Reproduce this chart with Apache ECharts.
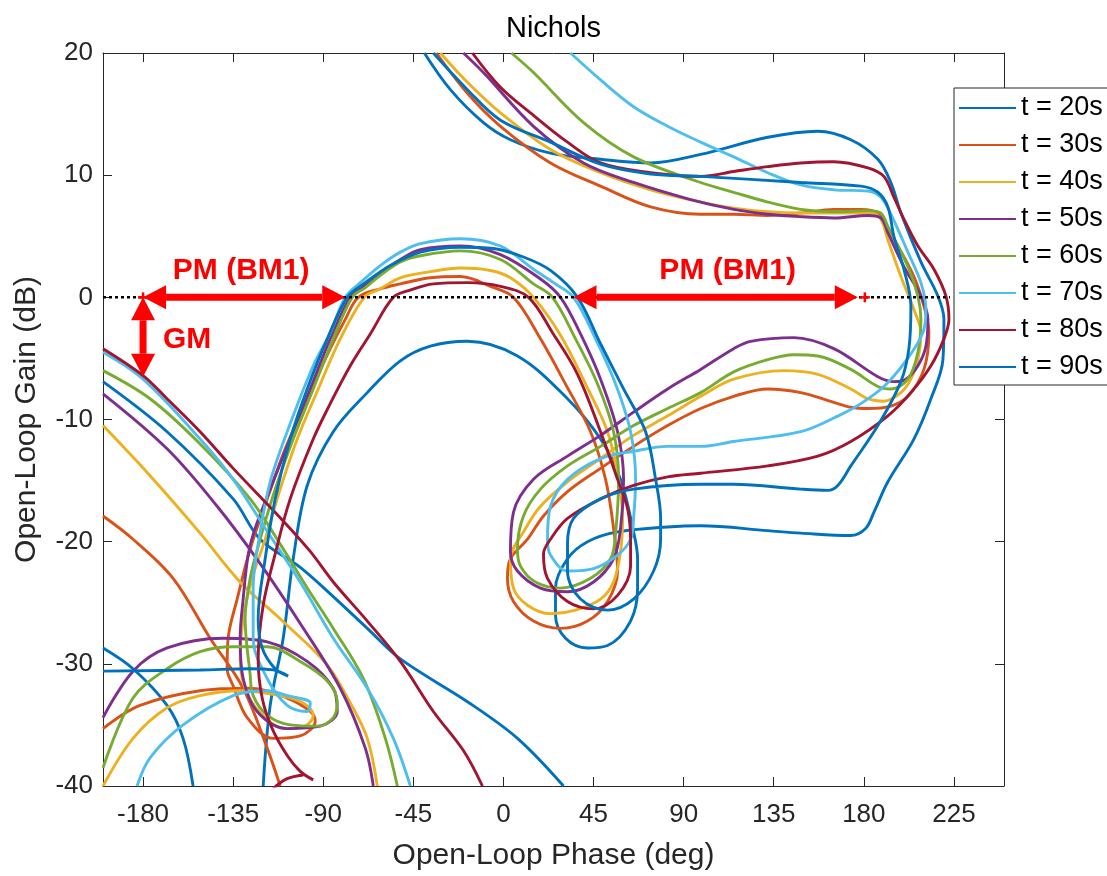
<!DOCTYPE html>
<html>
<head>
<meta charset="utf-8">
<script src="https://cdn.jsdelivr.net/npm/echarts@6/dist/echarts.min.js"></script>
<style>
  html, body { margin: 0; padding: 0; background: #fff; }
  #chart { width: 1107px; height: 876px; }
</style>
</head>
<body>
<div id="chart"></div>
<script>
// Nichols response of the loop at eight time instants; each trace is [phase (deg), gain (dB)],
// with null separating disconnected branches of the same response.
const seriesNames = ['t = 20s', 't = 30s', 't = 40s', 't = 50s', 't = 60s', 't = 70s', 't = 80s', 't = 90s'];
const seriesColors = ['#0072BD', '#D95319', '#EDB120', '#7E2F8E', '#77AC30', '#4DBEEE', '#A2142F', '#0072BD'];
const phaseTicks = [-180, -135, -90, -45, 0, 45, 90, 135, 180, 225];

const t20 = [
  [-39.5,20],[-26.5,17],[-10,14.3],[3.5,12.9],[23.5,11.8],[48.5,11.3],[73.5,11.0],[98.5,11.7],[132,13.1],[157,13.6],
  [173.5,12.9],[187,11.3],[193.5,9.4],[198.5,6.9],[208.5,2.9],[217,0.1],[220,-1.8],[219.5,-5.1],[213.5,-8.3],[205,-11.6],
  [192,-15.1],[185,-17.6],[181,-18.9],[173.5,-19.5],[148.5,-19.3],[132,-19.1],[98.5,-18.7],[82,-18.8],[57,-19.2],[42,-20],
  [32,-21.4],[26,-23.8],[26,-26],[31,-27.9],[42,-28.7],[52,-28.5],[63.5,-26.5],[67,-23.8],[67,-21.4],[65,-19.2],
  [58.5,-14.9],[48.5,-11.6],[32,-8.3],[7,-4.8],[-18,-3.6],[-36.5,-4],[-51.5,-5.2],[-68,-7.8],[-85,-11],[-98,-15.4],
  [-105,-21.4],[-110,-27.9],[-116.5,-33.4],[-120,-40],
  null,
  [-200,-6.9],[-168,-11],[-135,-16.5],[-121.5,-19.8],[-101.5,-22.1],[-85,-24.5],[-68,-27.1],[-51.5,-29.6],[-18,-33.1],[7,-36.1],[30,-40],
  null,
  [-200,-28.7],[-185,-30.4],[-168,-33.4],[-160,-36.1],[-155,-40]
];

const t30 = [
  [-33.5,20],[-18,16.7],[-1.5,14],[23.5,11],[48.5,9.1],[73.5,7.4],[98.5,6.8],[115,6.8],[132,6.7],[148.5,6.9],
  [165,7.2],[178.5,7.2],[187,6.9],[192,5.6],[197,4.2],[205,1.7],[210,-0.7],[212.5,-2.9],[210,-5.9],[202,-8.1],
  [193.5,-8.9],[182,-9.1],[173.5,-9],[165,-8.6],[148.5,-7.8],[132,-7.5],[115,-8.1],[98.5,-9.1],[82,-10.5],[65,-12.2],
  [48.5,-14],[32,-15.9],[20,-17.9],[12,-19.8],[3.5,-21.4],[2,-23],[5,-24.9],[15,-26.5],[28.5,-27.1],[42,-26.5],
  [52,-24.9],[57,-22.4],[55,-18.9],[51,-14.9],[43.5,-11],[31,-7.1],[18.5,-3.4],[5,0],[-6.5,0.9],[-21.5,1.7],
  [-36.5,1.6],[-51.5,1.1],[-61.5,0.7],[-72.5,0],[-79,-1.8],[-86.5,-4.2],[-98,-8.3],[-109,-12.4],[-118,-16.5],[-126.5,-20.6],
  [-133,-24.7],[-137.5,-27.9],[-138,-30.4],[-135,-31.8],[-128,-34.4],[-115,-36.1],[-101.5,-35.9],[-94,-34.7],[-96.5,-33.9],[-108,-32.8],
  [-126.5,-32],[-151.5,-32.2],[-181.5,-33.4],[-200,-35.3],
  null,
  [-200,-17.9],[-185,-19.8],[-165,-23],[-146.5,-27.9],[-130,-32],[-118,-36.9],[-111.5,-40]
];

const t40 = [
  [-31.5,20],[-18,17.6],[-1.5,15.1],[23.5,12.1],[48.5,10.2],[73.5,8.8],[98.5,7.8],[115,7.3],[132,7],[148.5,6.9],
  [165,6.9],[183.5,6.9],[188.5,6.4],[192,4.7],[198.5,1.7],[205,-1],[208.5,-2.9],[207,-5.1],[203.5,-6.7],[198.5,-7.8],
  [190,-8.5],[182,-8.3],[173.5,-7.5],[157,-6.3],[140,-6],[115,-6.7],[98.5,-8.1],[82,-9.7],[65,-11.3],[48.5,-13.2],
  [32,-15.1],[18.5,-17.1],[10,-19.2],[3.5,-21.4],[5,-23.8],[12,-25.2],[23.5,-25.9],[36,-25.6],[48.5,-24.7],[55,-23.3],
  [58.5,-20.8],[59.5,-18.1],[57.5,-14.9],[52,-11],[41,-7.1],[28.5,-3.1],[15,0],[3.5,1.6],[-6.5,2.2],[-21.5,2.4],
  [-36.5,2.1],[-51.5,1.6],[-61.5,0.7],[-69.5,0],[-81.5,-3.4],[-92.5,-7.5],[-103,-11.6],[-111.5,-15.7],[-119,-19.8],[-125.5,-23],
  [-130,-26.3],[-131.5,-29.6],[-129,-32],[-121.5,-34],[-109,-35.3],[-99,-35.1],[-95,-34.2],[-100,-33.2],[-111.5,-32.6],[-131.5,-32.2],
  [-151.5,-32.6],[-168,-33.6],[-185,-36.1],[-200,-40],
  null,
  [-200,-10.5],[-176.5,-14.6],[-151.5,-19.3],[-131.5,-23.3],[-109,-26.7],[-88,-30.1],[-76.5,-33.2],[-68,-36.1],[-63,-40]
];

const t50 = [
  [-20,20],[-10,18.4],[15,14],[40,11],[65,9.4],[93.5,8],[115,7.2],[132,6.8],[148.5,6.6],[165,6.5],
  [182,6.7],[188.5,6.5],[192,5.3],[200,2.5],[208.5,0.1],[212,-1.8],[211,-4],[207,-5.6],[201,-6.7],[195,-6.9],
  [187,-6.5],[165,-4.2],[145,-3.3],[123.5,-3.6],[115,-4.2],[98.5,-5.9],[82,-7.5],[65,-9.4],[48.5,-11.3],[32,-13],
  [15,-14.9],[5,-17.6],[3.5,-20.8],[7,-22.4],[18.5,-23.8],[32,-24.1],[45,-23.3],[55,-21.4],[58.5,-18.9],[60,-14.9],
  [57,-11],[48.5,-6.7],[38.5,-3],[28.5,0],[18.5,1.5],[-1.5,3.5],[-21.5,4.2],[-41.5,3.9],[-51.5,3.1],[-61.5,2],
  [-70.5,0.8],[-76.5,0],[-86.5,-3.4],[-96.5,-7.5],[-106.5,-11.6],[-116.5,-15.7],[-124,-18.9],[-127.5,-21.1],[-130,-24.7],[-131.5,-27.9],
  [-130,-31.2],[-123,-33.9],[-108,-35.3],[-91.5,-35.1],[-83,-33.9],[-85,-32],[-98,-29.8],[-118,-28.2],[-140,-27.9],[-168,-28.7],
  [-185,-30.6],[-200,-34.4],
  null,
  [-200,-7.9],[-168,-12.4],[-143,-17.1],[-121.5,-21.8],[-101.5,-26.7],[-81.5,-32],[-69,-36.9],[-65,-40]
];

const t60 = [
  [4,20],[15,18.4],[40,14.3],[65,11.5],[98.5,9.4],[115,8.6],[132,7.8],[148.5,7.2],[165,7],[182,7.1],
  [188.5,6.9],[192,5.8],[202,2.5],[207,0.1],[208.5,-1.8],[207,-4.5],[202,-6.7],[193.5,-7.5],[187,-7.3],[173.5,-5.9],
  [157,-4.8],[145,-4.7],[132,-5.1],[115,-6.1],[98.5,-7.8],[82,-9.1],[65,-10.5],[48.5,-12.2],[32,-13.8],[18.5,-15.7],
  [10,-17.9],[7,-20.6],[8.5,-22],[16,-23.3],[28.5,-23.8],[43.5,-23],[53.5,-21.4],[56,-19.3],[57.5,-14.9],[55,-11],
  [47,-7.1],[36,-3.4],[24.5,0],[15,1.1],[-1.5,3.1],[-21.5,3.8],[-41.5,3.4],[-51.5,2.9],[-61.5,1.8],[-69,0.8],
  [-75.5,0],[-85,-3.4],[-95,-7.5],[-105,-11.6],[-114,-15.7],[-121.5,-19.8],[-126.5,-23],[-129,-26.3],[-126.5,-30.9],[-125,-32.6],
  [-118,-34.2],[-106.5,-35],[-93,-35.1],[-85,-34.4],[-83,-33.1],[-88,-31.4],[-101.5,-29.8],[-118,-28.6],[-135,-28.6],[-151.5,-29],
  [-168,-30.4],[-185,-32.8],[-200,-38.5],
  null,
  [-200,-6],[-176.5,-8.3],[-151.5,-12],[-126.5,-16.5],[-111.5,-20.2],[-98,-23.8],[-85,-27.1],[-70,-31.2],[-59,-36.1],[-53,-40]
];

const t70 = [
  [33.5,20],[48.5,17.8],[65,15.6],[82,14],[98.5,12.7],[115,11.5],[132,10.2],[148.5,9.2],[165,8.8],[182,8.7],
  [188.5,8.2],[193.5,6.8],[202,3.7],[208.5,1.2],[211,-1],[209.5,-2.9],[201,-5.2],[190,-7.3],[178.5,-8.7],[168.5,-9.6],
  [148.5,-11],[115,-11.8],[98.5,-12.2],[82,-12.2],[65,-12.6],[48.5,-13.2],[32,-14.9],[23.5,-17.1],[22,-19.8],[23.5,-21.1],
  [32,-22.4],[45,-22.2],[57,-21.1],[63.5,-19.8],[65,-18.1],[66,-14.9],[63.5,-11],[56,-7.1],[46,-3.4],[35,0],
  [25,1.2],[15,2.3],[-1.5,4.2],[-21.5,4.8],[-41.5,4.4],[-51.5,3.7],[-61.5,2.6],[-71.5,1.2],[-79,0],[-86.5,-2.9],
  [-95,-5.6],[-108,-11],[-116.5,-15.1],[-121.5,-19.2],[-125,-23.8],[-125,-27.9],[-118,-31.2],[-108,-33.4],[-98,-33.9],[-96.5,-33.2],
  [-108,-32.6],[-118,-32.2],[-135,-32.6],[-160,-35],[-176.5,-37.7],[-183,-40],
  null,
  [-200,-4.5],[-180,-6.7],[-151.5,-11.6],[-135,-14.9],[-119,-18.9],[-101.5,-23.3],[-85,-27.9],[-68,-32],[-55,-36.1],[-46.5,-40]
];

const t80 = [
  [-15.5,20],[-1.5,17.2],[15,14.9],[32,12.7],[48.5,11],[73.5,10.2],[98.5,9.9],[115,10.3],[132,10.7],[148.5,11],
  [165,11.1],[182,10.6],[190,9.9],[195,8.2],[200,6.4],[207,4.2],[215,2.3],[221,0.1],[222.5,-1.8],[220,-3.4],
  [213.5,-5.6],[203.5,-7.8],[192,-9.7],[173.5,-11.8],[157,-13],[132,-13.8],[98.5,-14.4],[82,-14.7],[65,-15.4],[48.5,-16.5],
  [32,-18.1],[23.5,-19.8],[20,-21],[22,-23],[32,-24.9],[45,-25.5],[57,-24.4],[63.5,-22],[63.5,-19.8],[62,-17.3],
  [57,-14.9],[48.5,-11],[37,-6.3],[24.5,-2.9],[12.5,0],[-1.5,0.9],[-18,1.2],[-35,1.1],[-46.5,0.6],[-55,0],
  [-66.5,-3],[-76.5,-5.6],[-86.5,-8.7],[-95,-11.6],[-106.5,-16.5],[-114,-21],[-120,-25.2],[-122.5,-29.6],[-120.5,-32.8],[-115.5,-35.3],
  [-108,-37.5],[-101.5,-38.8],[-95,-39.5],
  null,
  [-115,-40.2],[-108,-39.4],[-100,-39.1],
  null,
  [-200,-4.2],[-180,-6.4],[-168,-8.3],[-151.5,-11],[-135,-14],[-110,-18.3],[-96.5,-20.8],[-85,-23.3],[-68,-26.5],[-51.5,-29.8],
  [-35,-33.9],[-20,-37.1],[-10.5,-40]
];

const t90 = [
  [-35,20],[-18,17],[-1.5,14.5],[23.5,12.7],[48.5,10.9],[73.5,10.1],[98.5,9.9],[148.5,9.4],[178.5,9.1],[187,8.6],
  [192,7.4],[195,5],[200,2.3],[203.5,-0.7],[202.5,-4.2],[198.5,-6.9],[187,-10.5],[173.5,-13.8],[167,-15.4],[162,-15.8],
  [148.5,-15.7],[115,-15.3],[98.5,-15.3],[65,-15.7],[48.5,-16.5],[35,-18.1],[32,-20.2],[32,-22.4],[38.5,-24.7],[52,-25.6],
  [65,-24.7],[75,-22.4],[78.5,-19.8],[78.5,-18.1],[76,-14.9],[71,-11],[60,-7.5],[48.5,-3.8],[37,0],[23.5,2.2],
  [10,3.3],[-5,4],[-21.5,4.1],[-41.5,3.7],[-56.5,2.6],[-69,1.2],[-78,0],[-88,-3.4],[-98,-7.5],[-106.5,-11.6],
  [-114,-16.5],[-119,-21.4],[-122.5,-26.3],[-120.5,-28.7],[-114,-30.4],[-107.5,-31],
  null,
  [-200,-30.6],[-151.5,-30.5],[-126.5,-30.4],[-115,-30.5],[-107.5,-31]
];

const traces = [t20, t30, t40, t50, t60, t70, t80, t90];

// Annotations: margin arrows [phase1, gain1, phase2, gain2], crossover marks, labels
const marginArrows = [[-180, 0, -79, 0], [35, 0, 177, 0], [-180, 0, -180, -6.5]];
const crossMarks = [[-180, 0], [180.5, 0]];
const noteTexts = ['PM (BM1)', 'PM (BM1)', 'GM'];
const notePositions = [[-131, 2.2], [112, 2.2], [-158, -3.5]];
const zeroDbLine = [[-200, 0], [223, 0]];

const FONT = '"Liberation Sans", Arial, Helvetica, sans-serif';
const AXIS_COLOR = '#262626';
const RED = '#FF0000';

const chart = echarts.init(document.getElementById('chart'), null, { renderer: 'canvas' });

function arrowItem(params, api) {
  const a = api.coord([api.value(0), api.value(1)]);
  const b = api.coord([api.value(2), api.value(3)]);
  const dx = b[0] - a[0], dy = b[1] - a[1];
  const len = Math.hypot(dx, dy);
  const ux = dx / len, uy = dy / len, nx = -uy, ny = ux;
  const hl = 23, hw = 12;
  const a2 = [a[0] + ux * hl, a[1] + uy * hl];
  const b2 = [b[0] - ux * hl, b[1] - uy * hl];
  return {
    type: 'group',
    children: [
      { type: 'line', shape: { x1: a2[0], y1: a2[1], x2: b2[0], y2: b2[1] }, style: { stroke: RED, lineWidth: 7 } },
      { type: 'polygon', shape: { points: [a, [a2[0] + nx * hw, a2[1] + ny * hw], [a2[0] - nx * hw, a2[1] - ny * hw]] }, style: { fill: RED } },
      { type: 'polygon', shape: { points: [b, [b2[0] + nx * hw, b2[1] + ny * hw], [b2[0] - nx * hw, b2[1] - ny * hw]] }, style: { fill: RED } }
    ]
  };
}

function crossItem(params, api) {
  const p = api.coord([api.value(0), api.value(1)]);
  const s = 5;
  return {
    type: 'group',
    children: [
      { type: 'line', shape: { x1: p[0] - s, y1: p[1], x2: p[0] + s, y2: p[1] }, style: { stroke: RED, lineWidth: 2.5 } },
      { type: 'line', shape: { x1: p[0], y1: p[1] - s, x2: p[0], y2: p[1] + s }, style: { stroke: RED, lineWidth: 2.5 } }
    ]
  };
}

function noteItem(params, api) {
  const p = api.coord([api.value(0), api.value(1)]);
  return {
    type: 'text',
    style: {
      text: noteTexts[params.dataIndex], x: p[0], y: p[1],
      fill: RED, font: 'bold 30px ' + FONT, align: 'center', verticalAlign: 'middle'
    }
  };
}

const lineSeries = traces.map((d, i) => ({
  name: seriesNames[i],
  type: 'line',
  data: d,
  showSymbol: false,
  symbol: 'none',
  smooth: 0.35,
  connectNulls: false,
  clip: true,
  silent: true,
  animation: false,
  color: seriesColors[i],
  lineStyle: { color: seriesColors[i], width: 2.9 }
}));

const xCommon = {
  type: 'value', min: -200, max: 250,
  splitLine: { show: false },
  axisLine: { show: true, onZero: false, lineStyle: { color: AXIS_COLOR, width: 1 } },
  axisTick: { show: true, inside: true, length: 9, customValues: phaseTicks, lineStyle: { color: AXIS_COLOR, width: 1 } }
};
const yCommon = {
  type: 'value', min: -40, max: 20, interval: 10,
  splitLine: { show: false },
  axisLine: { show: true, onZero: false, lineStyle: { color: AXIS_COLOR, width: 1 } },
  axisTick: { show: true, inside: true, length: 9, lineStyle: { color: AXIS_COLOR, width: 1 } }
};

chart.setOption({
  animation: false,
  backgroundColor: '#fff',
  textStyle: { fontFamily: FONT },
  title: {
    text: 'Nichols', left: 'center', top: 9,
    textStyle: { fontSize: 29, fontWeight: 'normal', color: '#000', fontFamily: FONT }
  },
  grid: { left: 103, top: 53, width: 901, height: 735, containLabel: false },
  xAxis: [
    Object.assign({}, xCommon, {
      position: 'bottom',
      axisLabel: { customValues: phaseTicks, fontSize: 26, color: AXIS_COLOR, margin: 16, fontFamily: FONT },
      name: 'Open-Loop Phase (deg)', nameLocation: 'middle', nameGap: 55,
      nameTextStyle: { fontSize: 30, color: AXIS_COLOR, fontFamily: FONT }
    }),
    Object.assign({}, xCommon, { position: 'top', axisLabel: { show: false } })
  ],
  yAxis: [
    Object.assign({}, yCommon, {
      position: 'left',
      axisLabel: { fontSize: 26, color: AXIS_COLOR, margin: 10, fontFamily: FONT },
      name: 'Open-Loop Gain (dB)', nameLocation: 'middle', nameGap: 61,
      nameTextStyle: { fontSize: 30, color: AXIS_COLOR, fontFamily: FONT }
    }),
    Object.assign({}, yCommon, { position: 'right', axisLabel: { show: false } })
  ],
  legend: {
    data: seriesNames,
    orient: 'vertical',
    left: 954, top: 88,
    padding: [5, 30, 3, 5],
    itemWidth: 57, itemHeight: 2, itemGap: 7,
    icon: 'rect',
    backgroundColor: '#fff',
    borderColor: AXIS_COLOR, borderWidth: 1, borderRadius: 0,
    selectedMode: false,
    textStyle: { fontSize: 27, color: '#000', lineHeight: 30, fontFamily: FONT }
  },
  series: lineSeries.concat([
    {
      name: 'zero-dB', type: 'line', data: zeroDbLine, symbol: 'none', silent: true, z: 3,
      lineStyle: { color: '#000', width: 2.5, type: [3, 3] }
    },
    { name: 'margins', type: 'custom', renderItem: arrowItem, data: marginArrows, silent: true, z: 5 },
    { name: 'crossings', type: 'custom', renderItem: crossItem, data: crossMarks, silent: true, z: 5 },
    { name: 'notes', type: 'custom', renderItem: noteItem, data: notePositions, silent: true, z: 6 }
  ])
});
</script>
</body>
</html>
